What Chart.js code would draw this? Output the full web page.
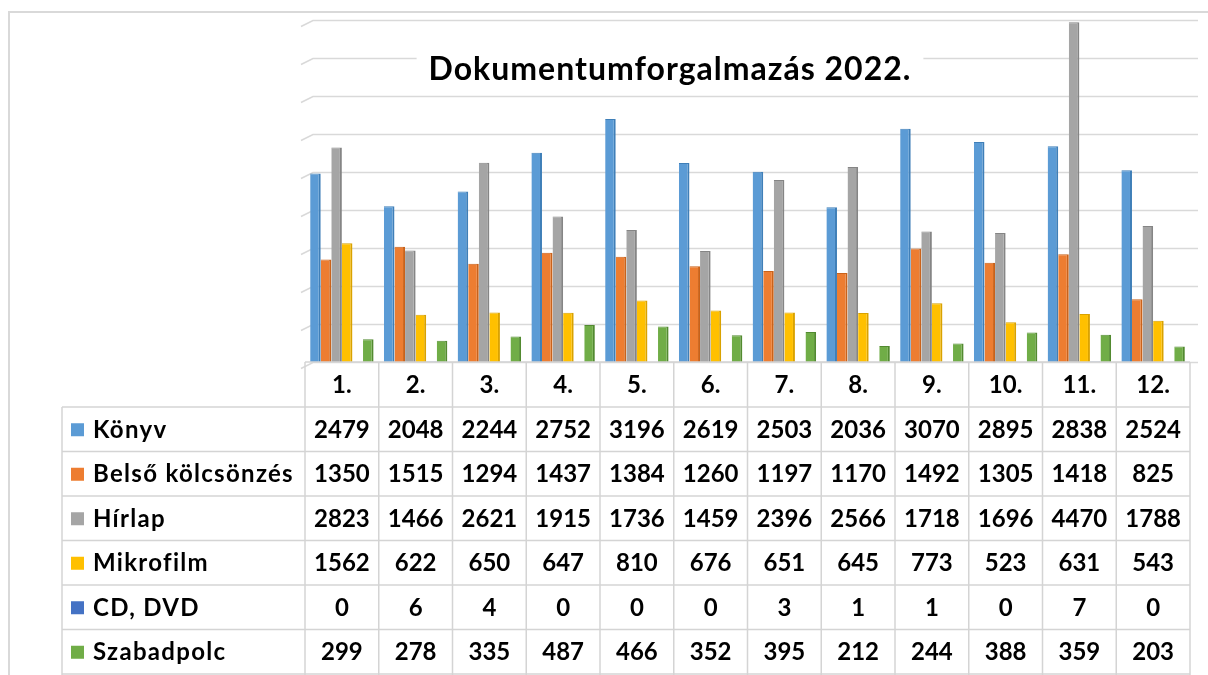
<!DOCTYPE html>
<html>
<head>
<meta charset="utf-8">
<style>
html,body{margin:0;padding:0;background:#fff;}
#wrap{position:relative;width:1208px;height:675px;}
canvas{display:block;}
</style>
<script src="https://cdn.jsdelivr.net/npm/chart.js@4/dist/chart.umd.min.js"></script>
</head>
<body>
<div id="wrap"><canvas id="c" width="1208" height="675"></canvas></div>
<script>
const titleText = "Dokumentumforgalmazás 2022.";
const months = ["1.","2.","3.","4.","5.","6.","7.","8.","9.","10.","11.","12."];
const seriesNames = ["Könyv","Belső kölcsönzés","Hírlap","Mikrofilm","CD, DVD","Szabadpolc"];
const konyv      = [2479,2048,2244,2752,3196,2619,2503,2036,3070,2895,2838,2524];
const belso      = [1350,1515,1294,1437,1384,1260,1197,1170,1492,1305,1418,825];
const hirlap     = [2823,1466,2621,1915,1736,1459,2396,2566,1718,1696,4470,1788];
const mikrofilm  = [1562,622,650,647,810,676,651,645,773,523,631,543];
const cddvd      = [0,6,4,0,0,0,3,1,1,0,7,0];
const szabadpolc = [299,278,335,487,466,352,395,212,244,388,359,203];
const colors     = ["#5B9BD5","#ED7D31","#A5A5A5","#FFC000","#4472C4","#70AD47"];
const edgeColors = ["#3F7FB8","#C9621A","#858585","#D9A200","#2F559C","#528A30"];
const yMax = 4500, yStep = 500;

const allSeries = [konyv, belso, hirlap, mikrofilm, cddvd, szabadpolc];
const FONT = "Lato, 'Open Sans', sans-serif";

const decor = {
  id: 'decor',
  beforeDraw(chart) {
    const ctx = chart.ctx;
    ctx.save();
    ctx.strokeStyle = '#d9d9d9';
    ctx.lineWidth = 2;
    ctx.beginPath();
    ctx.moveTo(9, 676); ctx.lineTo(9, 12); ctx.lineTo(1210, 12);
    ctx.stroke();
    ctx.restore();
  },
  beforeDatasetsDraw(chart) {
    const ctx = chart.ctx, y = chart.scales.y, a = chart.chartArea;
    ctx.save();
    ctx.strokeStyle = '#d9d9d9';
    ctx.lineWidth = 1.5;
    for (let v = 0; v <= yMax; v += yStep) {
      const py = Math.round(y.getPixelForValue(v)) + 0.5;
      ctx.beginPath();
      ctx.moveTo(a.left - 4, py + 6);
      ctx.lineTo(a.left + 8, py);
      ctx.lineTo(a.right + 8, py);
      ctx.stroke();
    }
    ctx.font = "bold 32px " + FONT;
    ctx.letterSpacing = '1px';
    const tw = ctx.measureText(titleText).width;
    const cx = 670, cy = 70;
    ctx.fillStyle = '#fff';
    ctx.fillRect(cx - tw / 2 - 12, cy - 26, tw + 24, 48);
    ctx.fillStyle = '#000';
    ctx.textAlign = 'center';
    ctx.textBaseline = 'middle';
    ctx.fillText(titleText, cx, cy);
    ctx.restore();
  },
  afterDraw(chart) {
    const ctx = chart.ctx, x = chart.scales.x, a = chart.chartArea;
    const n = months.length;
    const colW = (a.right - a.left) / n;
    const headTop = a.bottom, headBot = a.bottom + 45;
    const rowH = 44.5;
    const tableLeft = 62;
    ctx.save();
    ctx.strokeStyle = '#d4d4d4';
    ctx.lineWidth = 1.5;
    ctx.beginPath();
    ctx.moveTo(a.left, headTop); ctx.lineTo(a.right, headTop);
    ctx.stroke();
    for (let r = 0; r <= seriesNames.length; r++) {
      const py = headBot + r * rowH;
      ctx.beginPath();
      ctx.moveTo(tableLeft, py); ctx.lineTo(a.right, py);
      ctx.stroke();
    }
    ctx.beginPath();
    ctx.moveTo(tableLeft, headBot); ctx.lineTo(tableLeft, 676);
    ctx.stroke();
    for (let i = 0; i <= n; i++) {
      const px = a.left + i * colW;
      ctx.beginPath();
      ctx.moveTo(px, headTop); ctx.lineTo(px, 676);
      ctx.stroke();
    }
    ctx.fillStyle = '#000';
    ctx.textBaseline = 'middle';
    ctx.textAlign = 'center';
    ctx.font = "bold 24px " + FONT;
    for (let i = 0; i < n; i++) {
      const cx = x.getPixelForValue(i);
      ctx.fillText(months[i], cx, headTop + 23);
      for (let r = 0; r < allSeries.length; r++) {
        ctx.fillText(String(allSeries[r][i]), cx, headBot + r * rowH + rowH / 2 + 1);
      }
    }
    ctx.textAlign = 'left';
    ctx.letterSpacing = '1.3px';
    for (let r = 0; r < seriesNames.length; r++) {
      const cy = headBot + r * rowH + rowH / 2 + 1;
      ctx.fillStyle = colors[r];
      ctx.fillRect(71, cy - 7, 13, 13);
      ctx.fillStyle = '#000';
      ctx.fillText(seriesNames[r], 93, cy);
    }
    ctx.restore();
  }
};

new Chart(document.getElementById('c'), {
  type: 'bar',
  data: {
    labels: months,
    datasets: seriesNames.map((name, i) => ({
      label: name,
      data: allSeries[i],
      backgroundColor: colors[i],
      borderColor: edgeColors[i],
      borderWidth: {top: 1, right: 2, left: 0, bottom: 0},
      borderSkipped: 'start',
      categoryPercentage: 0.86,
      barPercentage: 1.0
    }))
  },
  options: {
    responsive: false,
    animation: false,
    layout: { padding: { left: 305, right: 18, top: 20, bottom: 313 } },
    plugins: { legend: { display: false }, title: { display: false }, tooltip: { enabled: false } },
    scales: {
      x: { display: false },
      y: {
        min: 0, max: yMax,
        display: false,
        ticks: { stepSize: yStep }
      }
    }
  },
  plugins: [decor]
});
</script>
</body>
</html>
